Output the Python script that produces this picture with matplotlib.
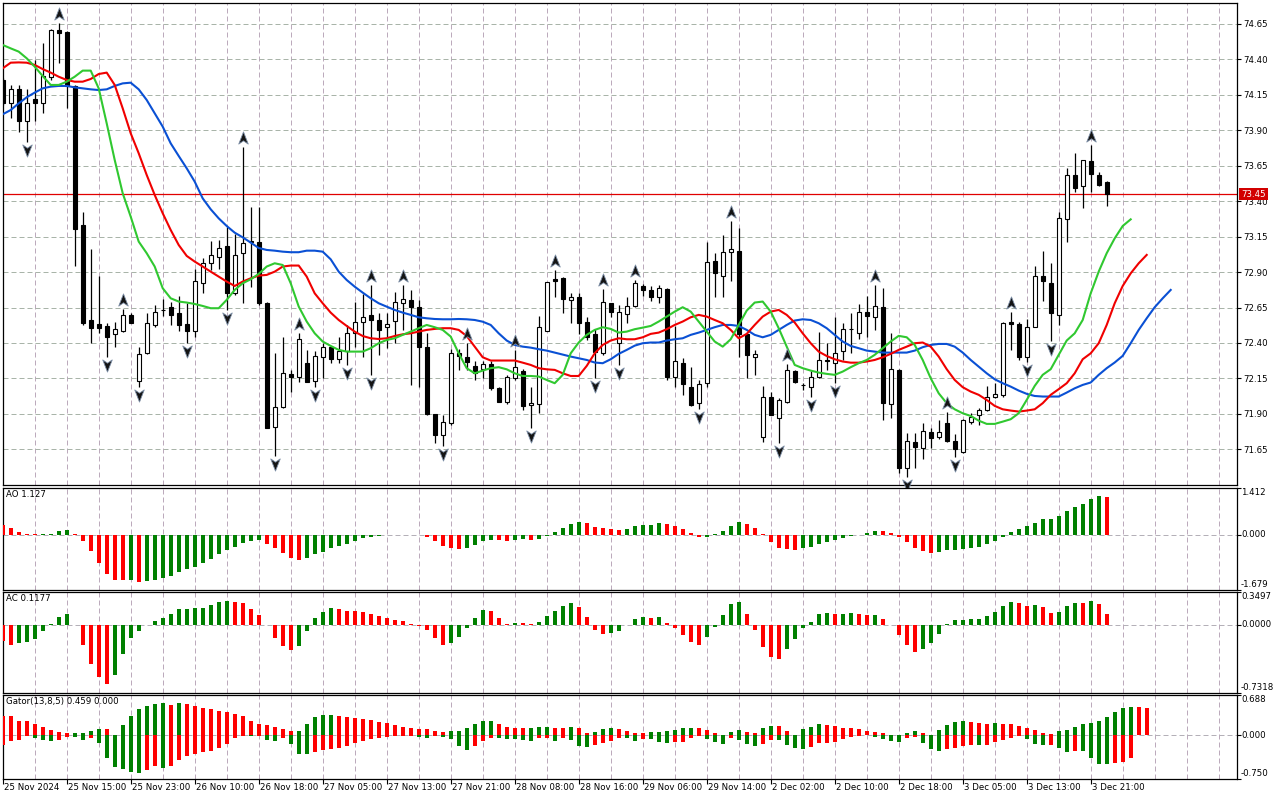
import numpy as np
import matplotlib
matplotlib.use("Agg")
import matplotlib.pyplot as plt
from matplotlib.path import Path
from matplotlib.transforms import offset_copy, blended_transform_factory

plt.rcParams['font.family'] = ['DejaVu Sans']

# ---------------- data (hourly bars, index 0..138) ----------------
opens = [74.255, 74.09, 74.19, 73.968, 74.121, 74.09, 74.274, 74.608, 74.594, 74.213,
         73.23, 72.562, 72.534, 72.52, 72.461, 72.487, 72.598, 72.134, 72.327, 72.53,
         72.63, 72.652, 72.614, 72.534, 72.487, 72.821, 72.962, 73.009, 73.084, 72.75,
         73.033, 73.11, 73.11, 72.68, 71.806, 71.951, 72.181, 72.162, 72.257, 72.132,
         72.299, 72.37, 72.285, 72.346, 72.468, 72.546, 72.598, 72.562, 72.51, 72.557,
         72.68, 72.703, 72.652, 72.37, 71.899, 71.751, 71.838, 72.33, 72.303, 72.238,
         72.214, 72.252, 72.08, 71.987, 72.151, 72.205, 71.96, 71.97, 72.487, 72.85,
         72.86, 72.703, 72.727, 72.546, 72.461, 72.327, 72.68, 72.398, 72.605, 72.664,
         72.802, 72.774, 72.727, 72.781, 72.163, 72.257, 72.087, 71.975, 72.116, 72.978,
         72.875, 73.044, 73.049, 72.461, 72.304, 71.735, 72.017, 71.87, 71.987, 72.205,
         72.106, 72.092, 72.158, 72.28, 72.257, 72.346, 72.50, 72.473, 72.617, 72.586,
         72.652, 71.97, 72.21, 71.516, 71.704, 71.657, 71.775, 71.735, 71.838, 71.711,
         71.634, 71.845, 71.893, 71.928, 72.017, 72.033, 72.55, 72.534, 72.304, 72.515,
         72.873, 72.821, 72.598, 73.272, 73.585, 73.51, 73.683, 73.585, 73.533]
highs = [74.27, 74.22, 74.22, 74.19, 74.396, 74.514, 74.612, 74.655, 74.60, 74.22,
         73.324, 73.063, 72.873, 72.543, 72.548, 72.638, 72.61, 72.374, 72.614, 72.668,
         72.71, 72.692, 72.734, 72.68, 72.92, 72.997, 73.12, 73.126, 73.221, 73.167,
         73.785, 73.357, 73.36, 72.69, 72.327, 72.44, 72.21, 72.468, 72.351, 72.346,
         72.398, 72.375, 72.44, 72.527, 72.692, 72.746, 72.809, 72.61, 72.61, 72.757,
         72.81, 72.774, 72.70, 72.468, 71.90, 71.893, 72.355, 72.36, 72.40, 72.27,
         72.27, 72.27, 72.087, 72.174, 72.351, 72.214, 72.087, 72.59, 72.83, 72.915,
         72.868, 72.755, 72.75, 72.586, 72.497, 72.779, 72.685, 72.668, 72.727, 72.845,
         72.816, 72.805, 72.81, 72.786, 72.52, 72.292, 72.233, 72.139, 73.11, 73.033,
         73.162, 73.263, 73.209, 72.468, 72.351, 72.097, 72.057, 72.01, 72.252, 72.21,
         72.12, 72.205, 72.48, 72.398, 72.586, 72.539, 72.614, 72.675, 72.732, 72.809,
         72.786, 72.473, 72.214, 71.768, 71.768, 71.838, 71.799, 71.853, 71.915, 71.756,
         71.862, 71.904, 71.94, 72.097, 72.116, 72.55, 72.621, 72.55, 72.567, 72.943,
         73.051, 72.962, 73.324, 73.637, 73.742, 73.69, 73.797, 73.604, 73.543]
lows = [74.08, 73.985, 73.89, 73.82, 73.968, 74.02, 74.255, 74.373, 74.06, 72.946,
        72.527, 72.40, 72.473, 72.304, 72.374, 72.48, 72.54, 72.092, 72.32, 72.515,
        72.59, 72.527, 72.485, 72.40, 72.44, 72.755, 72.915, 72.92, 72.633, 72.74,
        72.685, 72.797, 72.67, 71.798, 71.603, 71.94, 72.057, 72.127, 72.125, 72.092,
        72.15, 72.257, 72.257, 72.245, 72.374, 72.299, 72.174, 72.315, 72.362, 72.398,
        72.49, 72.104, 72.09, 71.893, 71.693, 71.674, 71.82, 72.21, 72.21, 72.139,
        72.15, 72.069, 71.985, 71.97, 72.139, 71.928, 71.798, 71.904, 72.485, 72.727,
        72.61, 72.539, 72.461, 72.42, 72.151, 72.315, 72.58, 72.245, 72.539, 72.657,
        72.732, 72.699, 72.685, 72.139, 72.092, 72.033, 71.956, 71.932, 72.087, 72.722,
        72.727, 72.84, 72.304, 72.151, 72.174, 71.704, 71.89, 71.693, 71.975, 72.116,
        72.069, 72.022, 72.151, 72.21, 72.116, 72.28, 72.327, 72.426, 72.445, 72.492,
        71.853, 71.869, 71.481, 71.457, 71.516, 71.58, 71.657, 71.72, 71.704, 71.594,
        71.627, 71.829, 71.822, 71.923, 72.01, 72.017, 72.351, 72.28, 72.268, 72.51,
        72.699, 72.417, 72.527, 73.115, 73.468, 73.355, 73.468, 73.51, 73.369]
closes = [74.09, 74.19, 73.968, 74.09, 74.09, 74.283, 74.608, 74.584, 74.213, 73.202,
          72.539, 72.508, 72.508, 72.445, 72.497, 72.598, 72.543, 72.322, 72.539, 72.617,
          72.632, 72.595, 72.527, 72.487, 72.84, 72.962, 73.018, 73.068, 72.755, 73.018,
          73.103, 73.117, 72.685, 71.803, 71.946, 72.186, 72.162, 72.426, 72.127, 72.308,
          72.37, 72.285, 72.346, 72.468, 72.546, 72.581, 72.562, 72.492, 72.534, 72.687,
          72.708, 72.652, 72.37, 71.899, 71.751, 71.845, 72.327, 72.31, 72.268, 72.191,
          72.252, 72.08, 71.987, 72.158, 72.228, 71.958, 71.975, 72.51, 72.828, 72.84,
          72.708, 72.722, 72.539, 72.445, 72.339, 72.687, 72.617, 72.617, 72.661, 72.821,
          72.774, 72.727, 72.786, 72.163, 72.273, 72.111, 71.963, 72.111, 72.969, 72.896,
          73.04, 73.06, 72.461, 72.315, 72.32, 72.017, 71.893, 71.998, 72.21, 72.127,
          72.10, 72.163, 72.28, 72.275, 72.327, 72.497, 72.495, 72.617, 72.59, 72.661,
          71.975, 72.217, 71.516, 71.711, 71.664, 71.777, 71.728, 71.775, 71.711, 71.65,
          71.853, 71.876, 71.928, 72.017, 72.04, 72.543, 72.534, 72.304, 72.51, 72.873,
          72.84, 72.61, 73.279, 73.585, 73.496, 73.69, 73.59, 73.515, 73.45]

# Alligator lines (already shifted forward: jaw 8, teeth 5, lips 3 bars)
jaw = [74.013, 74.043, 74.090, 74.133, 74.166, 74.196, 74.208, 74.213, 74.213, 74.203,
       74.196, 74.189, 74.184, 74.189, 74.213, 74.231, 74.236, 74.189, 74.114, 74.020,
       73.926, 73.808, 73.719, 73.632, 73.538, 73.420, 73.343, 73.279, 73.225, 73.178,
       73.145, 73.108, 73.070, 73.056, 73.051, 73.044, 73.040, 73.040, 73.051, 73.051,
       73.044, 72.990, 72.903, 72.844, 72.797, 72.755, 72.715, 72.680, 72.656, 72.633,
       72.614, 72.598, 72.581, 72.574, 72.569, 72.567, 72.567, 72.569, 72.567, 72.562,
       72.550, 72.527, 72.468, 72.417, 72.386, 72.374, 72.367, 72.356, 72.346, 72.332,
       72.318, 72.304, 72.292, 72.280, 72.262, 72.257, 72.285, 72.323, 72.351, 72.381,
       72.398, 72.403, 72.403, 72.417, 72.426, 72.433, 72.457, 72.473, 72.492, 72.511,
       72.527, 72.527, 72.520, 72.492, 72.457, 72.440, 72.457, 72.492, 72.527, 72.558,
       72.567, 72.562, 72.539, 72.504, 72.457, 72.410, 72.379, 72.363, 72.346, 72.339,
       72.332, 72.332, 72.332, 72.332, 72.346, 72.370, 72.386, 72.393, 72.393, 72.374,
       72.332, 72.280, 72.233, 72.186, 72.144, 72.116, 72.092, 72.064, 72.041, 72.026,
       72.022, 72.022, 72.022, 72.050, 72.080, 72.104, 72.121, 72.175, 72.222, 72.262,
       72.309, 72.398, 72.492, 72.574, 72.652, 72.715, 72.774]
teeth = [74.337, 74.377, 74.379, 74.377, 74.361, 74.332, 74.307, 74.278, 74.255, 74.243,
         74.243, 74.262, 74.297, 74.307, 74.220, 74.055, 73.879, 73.738, 73.585, 73.444,
         73.315, 73.197, 73.091, 73.014, 72.974, 72.939, 72.903, 72.868, 72.833, 72.802,
         72.833, 72.856, 72.875, 72.880, 72.903, 72.939, 72.946, 72.946, 72.868, 72.750,
         72.680, 72.614, 72.562, 72.520, 72.480, 72.449, 72.433, 72.428, 72.433, 72.449,
         72.461, 72.468, 72.480, 72.492, 72.499, 72.504, 72.504, 72.492, 72.449, 72.374,
         72.299, 72.276, 72.276, 72.276, 72.276, 72.261, 72.245, 72.222, 72.214, 72.210,
         72.186, 72.167, 72.167, 72.238, 72.327, 72.386, 72.417, 72.433, 72.426, 72.426,
         72.440, 72.464, 72.473, 72.497, 72.527, 72.551, 72.581, 72.598, 72.586, 72.562,
         72.539, 72.492, 72.433, 72.464, 72.527, 72.586, 72.621, 72.633, 72.598, 72.544,
         72.468, 72.398, 72.339, 72.308, 72.285, 72.269, 72.261, 72.261, 72.269, 72.280,
         72.299, 72.323, 72.351, 72.374, 72.398, 72.403, 72.374, 72.304, 72.215, 72.139,
         72.088, 72.057, 72.034, 71.998, 71.956, 71.932, 71.923, 71.916, 71.923, 71.932,
         71.975, 72.034, 72.074, 72.116, 72.186, 72.285, 72.327, 72.398, 72.527, 72.680,
         72.802, 72.891, 72.962, 73.021]
lips = [74.502, 74.478, 74.455, 74.408, 74.349, 74.283, 74.220, 74.220, 74.243, 74.278,
        74.321, 74.321, 74.196, 73.949, 73.691, 73.456, 73.291, 73.115, 73.033, 72.939,
        72.786, 72.715, 72.692, 72.685, 72.675, 72.661, 72.645, 72.645, 72.704, 72.774,
        72.821, 72.849, 72.887, 72.939, 72.962, 72.950, 72.821, 72.657, 72.551, 72.468,
        72.410, 72.379, 72.351, 72.339, 72.339, 72.339, 72.363, 72.398, 72.421, 72.433,
        72.457, 72.480, 72.504, 72.527, 72.511, 72.492, 72.445, 72.327, 72.222, 72.186,
        72.205, 72.222, 72.229, 72.214, 72.186, 72.167, 72.167, 72.163, 72.139, 72.116,
        72.175, 72.327, 72.403, 72.457, 72.492, 72.511, 72.499, 72.473, 72.480, 72.497,
        72.508, 72.520, 72.551, 72.586, 72.621, 72.652, 72.621, 72.551, 72.480, 72.410,
        72.374, 72.426, 72.527, 72.628, 72.685, 72.692, 72.621, 72.504, 72.374, 72.245,
        72.222, 72.205, 72.191, 72.182, 72.175, 72.198, 72.229, 72.257, 72.280, 72.316,
        72.363, 72.410, 72.450, 72.440, 72.386, 72.280, 72.151, 72.045, 71.975, 71.932,
        71.904, 71.885, 71.852, 71.829, 71.829, 71.845, 71.862, 71.904, 71.998, 72.097,
        72.175, 72.215, 72.316, 72.417, 72.468, 72.562, 72.750, 72.903, 73.033, 73.138,
        73.225, 73.272]

fractal_up = [7, 15, 30, 37, 46, 50, 58, 64, 69, 75, 79, 91, 98, 109, 118, 126, 136]
fractal_down = [3, 13, 17, 23, 28, 34, 39, 43, 46, 55, 66, 74, 77, 87, 97, 101, 104,
                113, 119, 128, 131]

ao = [0.303, 0.192, 0.091, 0.010, 0.004, 0.006, 0.010, 0.101, 0.152, 0.030,
      -0.202, -0.505, -0.848, -1.182, -1.364, -1.384, -1.364, -1.424, -1.394, -1.364,
      -1.303, -1.242, -1.121, -1.030, -0.970, -0.848, -0.727, -0.576, -0.455, -0.364,
      -0.242, -0.182, -0.175, -0.273, -0.394, -0.545, -0.697, -0.758, -0.697, -0.576,
      -0.515, -0.394, -0.333, -0.273, -0.182, -0.111, -0.081, -0.051, -0.020, -0.010,
      -0.008, -0.012, -0.020, -0.081, -0.202, -0.354, -0.414, -0.444, -0.414, -0.323,
      -0.202, -0.172, -0.175, -0.202, -0.172, -0.141, -0.172, -0.141, -0.030, 0.071,
      0.192, 0.313, 0.374, 0.343, 0.222, 0.192, 0.162, 0.131, 0.162, 0.253,
      0.283, 0.285, 0.343, 0.313, 0.253, 0.162, 0.040, -0.081, -0.075, 0.003,
      0.101, 0.253, 0.374, 0.313, 0.192, 0.003, -0.232, -0.414, -0.444, -0.475,
      -0.414, -0.384, -0.293, -0.222, -0.172, -0.111, -0.040, -0.010, 0.040, 0.101,
      0.100, 0.040, -0.081, -0.222, -0.404, -0.505, -0.566, -0.535, -0.475, -0.474,
      -0.444, -0.414, -0.384, -0.293, -0.202, -0.081, 0.071, 0.162, 0.253, 0.343,
      0.465, 0.466, 0.556, 0.707, 0.828, 0.919, 1.071, 1.162, 1.127]
ao_colors = ("RRRRR" "GGGG" "RRRRRRR" "G" "R" "GGGGGGGGGGGGGGG" "RRRRR" "GGGGGGGGGGGGG"
             "RRRRRRR" "GGGG" "RR" "GG" "R" "GGGGGG" "RRRRR" "GGGGG" "RRRRR" "GGGGG"
             "RRRRRRR" "GGGGGGGGGG" "RRRRRRR" "GGGGGGGGGGGGGGGGGGGGG" "R")

ac = [-0.178, -0.214, -0.200, -0.189, -0.150, -0.071, 0.011, 0.082, 0.118, -0.007,
      -0.214, -0.418, -0.564, -0.632, -0.535, -0.318, -0.139, -0.071, -0.004, 0.043,
      0.075, 0.111, 0.171, 0.172, 0.175, 0.182, 0.214, 0.246, 0.257, 0.246,
      0.236, 0.171, 0.107, -0.004, -0.139, -0.225, -0.268, -0.225, -0.071, 0.075,
      0.139, 0.182, 0.171, 0.150, 0.149, 0.139, 0.118, 0.096, 0.075, 0.054,
      0.043, 0.011, -0.011, -0.054, -0.139, -0.214, -0.193, -0.129, -0.032, 0.075,
      0.161, 0.150, 0.075, 0.011, 0.021, 0.020, 0.002, 0.032, 0.096, 0.150,
      0.204, 0.236, 0.193, 0.086, -0.054, -0.096, -0.086, -0.064, -0.007, 0.064,
      0.086, 0.075, 0.086, 0.021, -0.032, -0.107, -0.182, -0.214, -0.129, -0.021,
      0.107, 0.225, 0.246, 0.118, -0.054, -0.236, -0.343, -0.364, -0.257, -0.150,
      -0.032, 0.032, 0.118, 0.129, 0.118, 0.118, 0.129, 0.118, 0.107, 0.107,
      0.064, -0.004, -0.107, -0.214, -0.289, -0.257, -0.193, -0.096, 0.011, 0.054,
      0.055, 0.064, 0.065, 0.096, 0.139, 0.204, 0.246, 0.236, 0.204, 0.214,
      0.193, 0.129, 0.139, 0.204, 0.236, 0.235, 0.257, 0.225, 0.118]
ac_colors = ("RR" "GGGGGGG" "RRRRR" "GGGGGGGGGGGGGGG" "RRRRRRRR" "GGGGG" "RRRRRRRRRRRRRR"
             "GGGGG" "RRR" "G" "RR" "GGGGG" "RRRR" "GGGGG" "R" "G" "RRRRR" "GGGGG" "RRRRR"
             "GGGGGG" "R" "GG" "RR" "G" "RRRRR" "GGGGGGGGGGGG" "RR" "G" "RR" "GGG" "R" "G" "RR")

gator_up = [0.320, 0.320, 0.251, 0.251, 0.183, 0.148, 0.097, 0.063, 0.029, 0.029,
            0.046, 0.080, 0.114, 0.114, 0.010, 0.166, 0.337, 0.440, 0.508, 0.542,
            0.543, 0.525, 0.559, 0.537, 0.508, 0.474, 0.440, 0.422, 0.405, 0.371,
            0.337, 0.251, 0.183, 0.166, 0.148, 0.114, 0.080, 0.080, 0.183, 0.303,
            0.354, 0.354, 0.320, 0.303, 0.302, 0.285, 0.268, 0.234, 0.217, 0.166,
            0.137, 0.120, 0.103, 0.103, 0.068, 0.051, 0.068, 0.075, 0.120, 0.188,
            0.240, 0.241, 0.188, 0.137, 0.120, 0.119, 0.121, 0.137, 0.138, 0.120,
            0.119, 0.137, 0.120, 0.034, 0.051, 0.103, 0.120, 0.103, 0.068, 0.034,
            0.033, 0.051, 0.052, 0.068, 0.086, 0.120, 0.121, 0.119, 0.086, 0.034,
            0.005, 0.051, 0.086, 0.051, 0.034, 0.120, 0.154, 0.153, 0.068, 0.010,
            0.103, 0.137, 0.188, 0.171, 0.154, 0.120, 0.119, 0.103, 0.068, 0.051,
            0.034, 0.005, 0.004, 0.034, 0.068, 0.034, 0.005, 0.086, 0.171, 0.223,
            0.240, 0.223, 0.205, 0.188, 0.205, 0.200, 0.188, 0.154, 0.120, 0.086,
            0.034, 0.017, 0.068, 0.086, 0.137, 0.188, 0.205, 0.240, 0.308, 0.394,
            0.462, 0.479, 0.475, 0.459]
gator_up_colors = ("RRRRRRRRR" "GGGG" "R" "GGGGGGG" "R" "G" "RRRRRRRRRRRRRR" "GGGGG"
                   "RRRRRRRRRRRRRR" "GGGGGG" "RRRR" "GGG" "RR" "G" "RR" "GGG" "RRRR"
                   "GGGGGG" "RRRR" "GG" "RR" "GG" "RRR" "GGG" "RRRRRRRRRR" "GG" "RR"
                   "GGGG" "RRR" "G" "RRRRRRR" "GGGGGGGGGG" "RR")
gator_down = [-0.166, -0.108, -0.074, -0.006, -0.046, -0.074, -0.108, -0.074, -0.034, -0.034,
              -0.074, -0.051, -0.126, -0.382, -0.537, -0.571, -0.622, -0.639, -0.588, -0.519,
              -0.554, -0.519, -0.417, -0.348, -0.314, -0.280, -0.263, -0.211, -0.143, -0.040,
              -0.006, -0.017, -0.017, -0.074, -0.091, -0.040, -0.143, -0.314, -0.314, -0.280,
              -0.245, -0.228, -0.211, -0.177, -0.126, -0.108, -0.057, -0.040, -0.023, -0.011,
              -0.011, -0.011, -0.034, -0.046, -0.011, -0.034, -0.068, -0.188, -0.257, -0.188,
              -0.103, -0.051, -0.052, -0.068, -0.069, -0.086, -0.103, -0.051, -0.050, -0.103,
              -0.051, -0.086, -0.188, -0.205, -0.171, -0.137, -0.103, -0.051, -0.052, -0.103,
              -0.068, -0.069, -0.120, -0.137, -0.120, -0.119, -0.051, -0.011, -0.068, -0.120,
              -0.154, -0.051, -0.086, -0.154, -0.188, -0.154, -0.086, -0.087, -0.171, -0.223,
              -0.240, -0.205, -0.137, -0.137, -0.120, -0.068, -0.034, -0.011, -0.004, -0.034,
              -0.068, -0.103, -0.120, -0.051, -0.034, -0.137, -0.240, -0.274, -0.240, -0.223,
              -0.188, -0.171, -0.172, -0.171, -0.120, -0.086, -0.051, -0.011, -0.068, -0.154,
              -0.171, -0.171, -0.223, -0.291, -0.274, -0.276, -0.394, -0.497, -0.497, -0.479,
              -0.462, -0.394]
gator_down_colors = ("RRRR" "GGG" "RR" "GG" "R" "GGGGGG" "RR" "G" "RRRRRRRRRR" "G" "R" "GG"
                     "R" "GGG" "RRRRRRRRRRRRR" "GG" "R" "GGGG" "RRR" "GGGGG" "RR" "G" "R"
                     "GGG" "RRRR" "GG" "R" "GGG" "RRRR" "GGG" "R" "GGG" "RR" "GGGG"
                     "RRRRRRRR" "GGGG" "RR" "GGG" "RRRR" "G" "RRRRR" "GGG" "R" "GG" "R"
                     "GGGG" "RRR")

price_ticks = [71.65, 71.90, 72.15, 72.40, 72.65, 72.90, 73.15, 73.40, 73.65, 73.90, 74.15, 74.40, 74.65]
time_label_bars = [0, 8, 16, 24, 32, 40, 48, 56, 64, 72, 80, 88, 96, 104, 112, 120, 128, 136]
time_labels = ["25 Nov 2024", "25 Nov 15:00", "25 Nov 23:00", "26 Nov 10:00", "26 Nov 18:00",
               "27 Nov 05:00", "27 Nov 13:00", "27 Nov 21:00", "28 Nov 08:00", "28 Nov 16:00",
               "29 Nov 06:00", "29 Nov 14:00", "2 Dec 02:00", "2 Dec 10:00", "2 Dec 18:00",
               "3 Dec 05:00", "3 Dec 13:00", "3 Dec 21:00"]
ao_limits = (-1.679, 1.412)
ac_limits = (-0.7318, 0.3497)
gator_limits = (-0.750, 0.688)
ao_title = "AO 1.127"
ac_title = "AC 0.1177"
gator_title = "Gator(13,8,5) 0.459 0.000"

# ---------------- style ----------------
W, H = 1280, 800
FS = 6.2
GREEN = '#008000'
RED = '#ff0000'
HGRID = '#a9b4a9'
VGRID = '#bcaabc'
DASH = (0, (5, 3))
cmap = {'G': GREEN, 'R': RED}

fig = plt.figure(figsize=(W / 100, H / 100), dpi=100)
fig.patch.set_facecolor('white')


def px_axes(x0, y0, x1, y1):
    return fig.add_axes([x0 / W, 1 - y1 / H, (x1 - x0) / W, (y1 - y0) / H])


ax = px_axes(3, 3, 1237, 485)
ax_ao = px_axes(3, 488, 1237, 590)
ax_ac = px_axes(3, 592, 1237, 693)
ax_g = px_axes(3, 695, 1237, 779)
axes = [ax, ax_ao, ax_ac, ax_g]

x_lo, x_hi = (3 - 2.7) / 8, (1237 - 2.7) / 8
for a in axes:
    a.set_xlim(x_lo, x_hi)
    a.set_facecolor('white')
    for s in a.spines.values():
        s.set_linewidth(0.9)
        s.set_color('black')
    for gx in np.arange(4, x_hi, 4):
        a.axvline(gx, color=VGRID, lw=0.72, ls=DASH, zorder=0)
    a.tick_params(axis='x', length=0, labelbottom=False)
    a.tick_params(axis='y', left=False, labelleft=False)

# ---------------- main price panel ----------------
o = np.array(opens); h = np.array(highs); l = np.array(lows); c = np.array(closes)
xb = np.arange(len(o))
bull = c >= o
ax.set_ylim(71.398, 74.798)
for v in price_ticks:
    ax.axhline(v, color=HGRID, lw=0.72, ls=DASH, zorder=0)

ax.vlines(xb, l, h, color='black', lw=0.9, zorder=3)
body_h = np.maximum(np.abs(c - o), 0.003)
body_b = np.minimum(o, c)
ax.bar(xb[bull], body_h[bull], bottom=body_b[bull], width=0.5, facecolor='white',
       edgecolor='black', linewidth=0.8, zorder=4)
ax.bar(xb[~bull], body_h[~bull], bottom=body_b[~bull], width=0.5, facecolor='black',
       edgecolor='black', linewidth=0.8, zorder=4)

ax.plot(np.arange(len(jaw)), jaw, color='#0a50d4', lw=1.5, zorder=5)
ax.plot(np.arange(len(teeth)), teeth, color='#f00000', lw=1.5, zorder=5)
ax.plot(np.arange(len(lips)), lips, color='#30c830', lw=1.5, zorder=5)

up_path = Path([(0, 1), (0.72, -0.85), (0, -0.35), (-0.72, -0.85), (0, 1)],
               [Path.MOVETO, Path.LINETO, Path.LINETO, Path.LINETO, Path.CLOSEPOLY])
dn_path = Path([(0, -1), (0.72, 0.85), (0, 0.35), (-0.72, 0.85), (0, -1)],
               [Path.MOVETO, Path.LINETO, Path.LINETO, Path.LINETO, Path.CLOSEPOLY])
tr_up = offset_copy(ax.transData, fig=fig, x=0, y=9, units='dots')
tr_dn = offset_copy(ax.transData, fig=fig, x=0, y=-8, units='dots')
fu = np.array(fractal_up); fd = np.array(fractal_down)
ax.plot(fu, h[fu], ls='none', marker=up_path, ms=9.5, mfc='#141414', mec='#7c8ea6',
        mew=0.6, transform=tr_up, zorder=6, clip_on=False)
ax.plot(fd, l[fd], ls='none', marker=dn_path, ms=9.5, mfc='#141414', mec='#7c8ea6',
        mew=0.6, transform=tr_dn, zorder=6, clip_on=False)

last = c[-1]
ax.axhline(last, color='#e00000', lw=0.9, zorder=2)

ax.yaxis.tick_right()
ax.set_yticks(price_ticks)
ax.set_yticklabels([f'{v:.2f}' for v in price_ticks])
ax.tick_params(axis='y', right=True, labelright=True, length=3, width=0.8, pad=1.5,
               labelsize=FS, colors='black')
ax.text(1.0, last, f'{last:.2f}', transform=offset_copy(ax.get_yaxis_transform(), fig=fig,
        x=4, y=0, units='dots'), ha='left', va='center', fontsize=FS, color='white',
        clip_on=False, zorder=20,
        bbox=dict(boxstyle='square,pad=0.22', fc='#d20000', ec='none'))


# ---------------- indicator panels ----------------
def setup_panel(a, lims, fmt, title):
    a.set_ylim(*lims)
    a.axhline(0, color='#b4b0b8', lw=0.72, ls=DASH, zorder=0)
    a.yaxis.tick_right()
    a.set_yticks([lims[0], 0, lims[1]])
    a.set_yticklabels([])
    a.tick_params(axis='y', right=True, length=3, width=0.8)
    base = a.get_yaxis_transform()
    a.text(1.0, lims[1], fmt.format(lims[1]),
           transform=offset_copy(base, fig=fig, x=4, y=0, units='dots'),
           ha='left', va='top', fontsize=FS, clip_on=False)
    a.text(1.0, 0, fmt.format(0.0),
           transform=offset_copy(base, fig=fig, x=4, y=0, units='dots'),
           ha='left', va='center', fontsize=FS, clip_on=False)
    a.text(1.0, lims[0], fmt.format(lims[0]),
           transform=offset_copy(base, fig=fig, x=4, y=1, units='dots'),
           ha='left', va='bottom', fontsize=FS, clip_on=False)
    a.text(0.0, 1.0, title, transform=offset_copy(a.transAxes, fig=fig, x=3, y=-2, units='dots'),
           ha='left', va='top', fontsize=FS)


setup_panel(ax_ao, ao_limits, '{:.3f}', ao_title)
setup_panel(ax_ac, ac_limits, '{:.4f}', ac_title)
setup_panel(ax_g, gator_limits, '{:.3f}', gator_title)

ax_ao.bar(np.arange(len(ao)), ao, width=0.5, color=[cmap[k] for k in ao_colors], lw=0, zorder=3)
ax_ac.bar(np.arange(len(ac)), ac, width=0.5, color=[cmap[k] for k in ac_colors], lw=0, zorder=3)
ax_g.bar(np.arange(len(gator_up)), gator_up, width=0.5,
         color=[cmap[k] for k in gator_up_colors], lw=0, zorder=3)
ax_g.bar(np.arange(len(gator_down)), gator_down, width=0.5,
         color=[cmap[k] for k in gator_down_colors], lw=0, zorder=3)

# ---------------- time axis ----------------
ax_g.set_xticks(time_label_bars)
ax_g.tick_params(axis='x', length=3.5, width=0.8, direction='out', labelbottom=False)
tr_time = offset_copy(blended_transform_factory(ax_g.transData, ax_g.transAxes),
                      fig=fig, x=1, y=-4, units='dots')
for b, lab in zip(time_label_bars, time_labels):
    ax_g.text(b, 0, lab, transform=tr_time, ha='left', va='top', fontsize=FS, clip_on=False)

fig.savefig('out.png', dpi=100, facecolor='white')
